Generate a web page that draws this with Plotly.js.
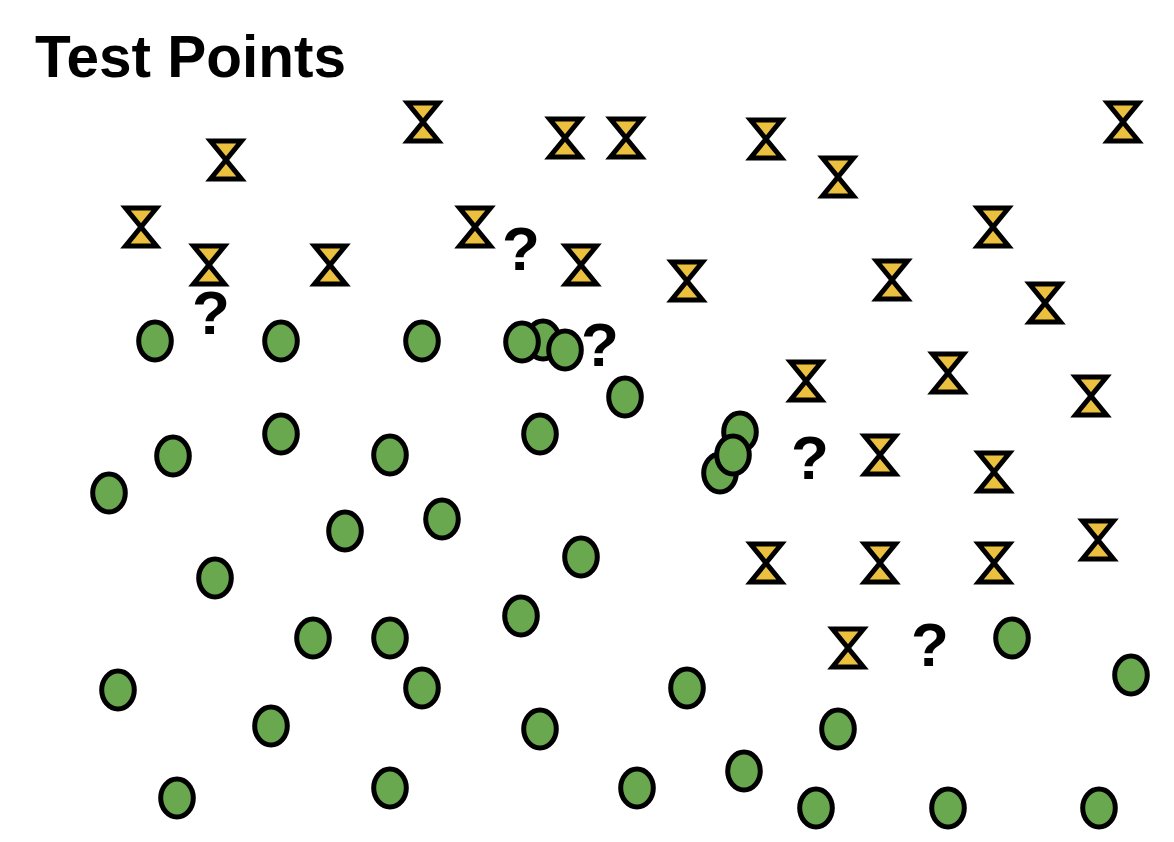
<!DOCTYPE html>
<html>
<head>
<meta charset="utf-8">
<script src="https://cdn.plot.ly/plotly-3.0.1.min.js"></script>
<style>html,body{margin:0;padding:0;background:#fff;}#chart{width:1174px;height:842px;}</style>
</head>
<body>
<div id="chart"></div>
<script>
// Class A (hourglass) points
const classAX = [423,565,626,766,1123,226,838,141,475,993,209,330,581,687,892,1045,806,948,1091,880,994,1098,766,880,994,848];
const classAY = [122,138,138,139,122,160,177,227,227,227,265,265,265,281,280,303,381,373,396,455,472,540,563,563,563,648];
// Class B (circle) points
const classBX = [155,281,422,543,522,565,625,173,281,390,540,740,720,733,109,345,442,581,215,313,390,521,1012,118,422,687,1131,271,540,838,177,390,637,744,816,948,1099];
const classBY = [341,341,341,340,342,350,397,456,434,455,434,432,473,455,493,531,519,557,578,638,638,616,638,690,688,688,675,726,729,729,798,788,788,771,808,808,808];
// Test points
const testX = [211,521,600,810,930];
const testY = [318,254,350,463,650];
const testLabel = ['?','?','?','?','?'];

// Class A drawn as hourglass paths anchored at data coordinates
const hourglassShapes = classAX.map((xv, i) => ({
  type: 'path', layer: 'above',
  xref: 'x', yref: 'y',
  xsizemode: 'pixel', ysizemode: 'pixel',
  xanchor: xv, yanchor: classAY[i],
  path: 'M -15.5,19 H 15.5 L -15.5,-19 H 15.5 Z',
  fillcolor: '#EBC03F',
  line: {color: '#000', width: 5}
}));

// Class B drawn as ellipses anchored at data coordinates
const ellipseShapes = classBX.map((xv, i) => ({
  type: 'circle', layer: 'above',
  xref: 'x', yref: 'y',
  xsizemode: 'pixel', ysizemode: 'pixel',
  xanchor: xv, yanchor: classBY[i],
  x0: -16.3, x1: 16.3, y0: -19, y1: 19,
  fillcolor: '#6AA84F',
  line: {color: '#000', width: 5}
}));

const traces = [
  {x: testX, y: testY, mode: 'text', type: 'scatter', name: 'Test',
   text: testLabel, textposition: 'middle center',
   textfont: {family: 'Liberation Sans, Arial, sans-serif', size: 62, color: '#000', weight: 'bold'}}
];

const layout = {
  width: 1174, height: 842,
  margin: {l: 0, r: 0, t: 0, b: 0},
  paper_bgcolor: '#fff', plot_bgcolor: '#fff',
  showlegend: false,
  shapes: hourglassShapes.concat(ellipseShapes),
  title: {text: '<b>Test Points</b>', x: 35/1174, xanchor: 'left', xref: 'container',
          y: 1 - 57/842, yanchor: 'middle', yref: 'container',
          font: {family: 'Liberation Sans, Arial, sans-serif', size: 58.5, color: '#000'}},
  xaxis: {range: [0, 1174], visible: false, fixedrange: true},
  yaxis: {range: [842, 0], visible: false, fixedrange: true}
};

Plotly.newPlot('chart', traces, layout, {displayModeBar: false, staticPlot: true});
</script>
</body>
</html>
